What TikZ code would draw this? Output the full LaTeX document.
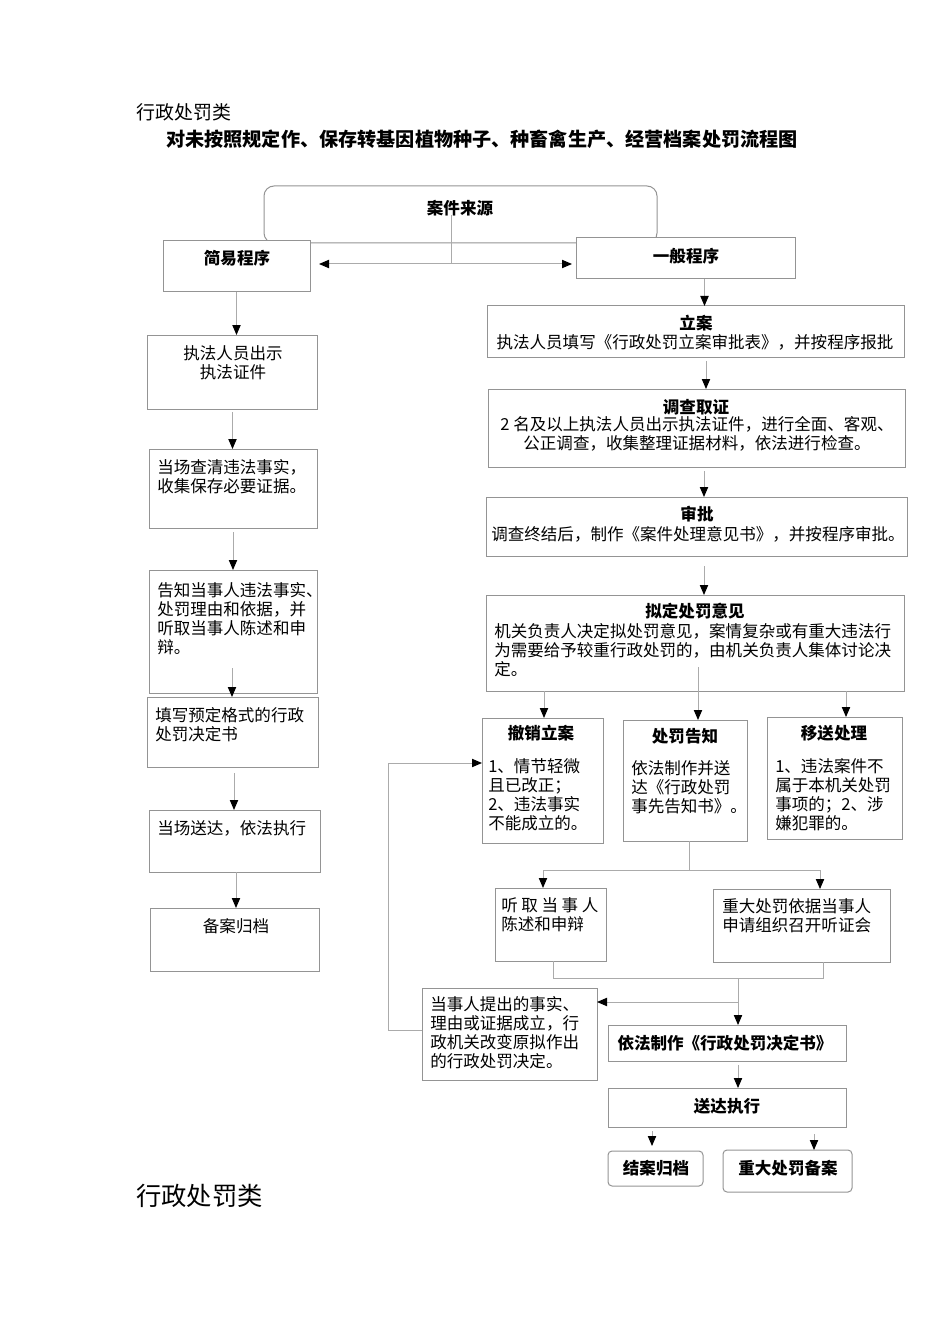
\documentclass[tikz,border=0pt]{standalone}
\usepackage{fontspec}
\setmainfont{Noto Sans CJK SC}
\usetikzlibrary{arrows.meta,calc}
\newcommand\fs{\fontsize{12.4pt}{14.3pt}\selectfont}
\newcommand\mkbox[6][]{\node[box,#1,minimum width={(#5-#3)*0.75pt},minimum height={(#6-#4)*0.75pt}] (#2) at ({(#3+#5)/2},{(#4+#6)/2}) {};}
\begin{document}
\begin{tikzpicture}[x=0.75pt,y=-0.75pt,
  box/.style={draw=black!42, fill=white, line width=0.75pt, inner sep=0pt, outer sep=0pt},
  ln/.style={draw=black!33, line width=0.75pt},
  tipa/.tip={Triangle[length=7.5pt,width=6.2pt,color=black]},
  arr/.style={ln, -tipa},
  darr/.style={ln, tipa-tipa},
  txt/.style={inner sep=0pt, font=\fs, align=left, anchor=west},
  ctr/.style={inner sep=0pt, font=\fs, align=center, anchor=center},
  hd/.style={inner sep=0pt, font=\fs\bfseries, anchor=center}
]
\fill[white] (0,0) rectangle (950,1344);
\useasboundingbox (0,0) rectangle (950,1344);

% titles
\node[anchor=west,inner sep=0pt,font=\fontsize{14.2pt}{16pt}\selectfont] (t1) at (136,112) {行政处罚类};
\node[anchor=west,inner sep=0pt,font=\fontsize{14.35pt}{16pt}\selectfont\bfseries] (t2) at (166,139) {对未按照规定作、保存转基因植物种子、种畜禽生产、经营档案处罚流程图};
\node[anchor=west,inner sep=0pt,font=\fontsize{19pt}{22pt}\selectfont] (t3) at (136,1196) {行政处罚类};

% source box and two procedures
\mkbox[rounded corners=7.5pt]{src}{264}{186}{657}{243}
\mkbox{jy}{163}{241}{310}{292}
\mkbox{yb}{576}{238}{795}{279}
\node[hd] at (460,208) {案件来源};
\node[hd] at (237,258) {简易程序};
\node[hd] at (686,256) {一般程序};

% left column
\mkbox{L1}{147}{335}{317}{409}
\mkbox{L2}{149}{449}{317}{528}
\mkbox{L3}{149}{570}{317}{693}
\mkbox{L4}{147}{697}{318}{767}
\mkbox{L5}{149}{810}{320}{872}
\mkbox{L6}{150}{908}{319}{971}
\node[ctr] at (233,363) {执法人员出示\\执法证件};
\node[txt] at (157,477) {当场查清违法事实，\\收集保存必要证据。};
\node[txt] at (157,618.5) {告知当事人违法事实、\\处罚理由和依据，并\\听取当事人陈述和申\\辩。};
\node[txt] at (155,724.5) {填写预定格式的行政\\处罚决定书};
\node[txt] at (157,828) {当场送达，依法执行};
\node[ctr] at (236,926) {备案归档};

% right column
\mkbox{R1}{487}{306}{904}{357}
\mkbox{R2}{488}{389}{905}{467}
\mkbox{R3}{486}{497}{907}{556}
\mkbox{R4}{486}{595}{904}{691}
\node[hd] at (696,323) {立案};
\node[ctr] at (695,342) {执法人员填写《行政处罚立案审批表》，并按程序报批};
\node[hd] at (696,407) {调查取证};
\node[ctr] at (697,433.5) {2 名及以上执法人员出示执法证件，进行全面、客观、\\公正调查，收集整理证据材料，依法进行检查。};
\node[hd] at (697,514) {审批};
\node[ctr] at (698,534) {调查终结后，制作《案件处理意见书》，并按程序审批。};
\node[hd] at (695,611) {拟定处罚意见};
\node[txt] at (494,650) {机关负责人决定拟处罚意见，案情复杂或有重大违法行\\为需要给予较重行政处罚的，由机关负责人集体讨论决\\定。};

\mkbox{C1}{482}{718}{603}{843}
\mkbox{C2}{623}{720}{747}{841}
\mkbox{C3}{767}{717}{902}{839}
\node[hd] at (541,733) {撤销立案};
\node[txt] at (488,794.5) {1、情节轻微\\且已改正；\\2、违法事实\\不能成立的。};
\node[hd] at (685,736) {处罚告知};
\node[txt] at (631,787) {依法制作并送\\达《行政处罚\\事先告知书》。};
\node[hd] at (834,733) {移送处理};
\node[txt] at (775,794.5) {1、违法案件不\\属于本机关处罚\\事项的；2、涉\\嫌犯罪的。};

\mkbox{H1}{495}{888}{606}{961}
\mkbox{H2}{713}{889}{890}{962}
\node[txt] at (501,914.5) {听\hspace{2.7pt}取\hspace{2.7pt}当\hspace{2.7pt}事\hspace{2.7pt}人\\陈述和申辩};
\node[txt] at (722,915.5) {重大处罚依据当事人\\申请组织召开听证会};

\mkbox{D1}{422}{988}{597}{1080}
\node[txt] at (430,1032.5) {当事人提出的事实、\\理由或证据成立，行\\政机关改变原拟作出\\的行政处罚决定。};

\mkbox{F1}{608}{1025}{846}{1061}
\mkbox{F2}{608}{1088}{846}{1127}
\mkbox[rounded corners=3pt]{E1}{608}{1151}{703}{1186}
\mkbox[rounded corners=3pt]{E2}{723}{1150}{852}{1192}
\node[hd] at (725,1043) {依法制作《行政处罚决定书》};
\node[hd] at (727,1106) {送达执行};
\node[hd] at (656,1168) {结案归档};
\node[hd] at (788,1168) {重大处罚备案};

% connectors: top
\coordinate (s1) at ($(src.center)+(-9.5,0.5)$);
\coordinate (s2) at ($(s1)+(0,49)$);
\coordinate (hl) at ($(s2 -| jy.east)+(9,0)$);
\coordinate (hr) at ($(s2 -| yb.west)+(-4,0)$);
\draw[ln] (s1) -- (s2);
\draw[darr] (hl) -- (hr);

% left column arrows
\draw[arr] (jy.south) -- (jy.south |- L1.north);
\draw[arr] ($(L1.south)+(0.5,3)$) coordinate (q) -- (q |- L2.north);
\draw[arr] ($(L2.south)+(0,4)$) coordinate (q) -- (q |- L3.north);
\draw[arr] ($(L3.south)+(-1,-25)$) coordinate (q) -- (q |- L4.north);
\draw[arr] ($(L4.south)+(1.5,6)$) coordinate (q) -- (q |- L5.north);
\draw[arr] ($(L5.south)+(1.5,0)$) coordinate (q) -- (q |- L6.north);

% right column arrows
\draw[arr] ($(yb.south)+(19,0)$) coordinate (q) -- (q |- R1.north);
\draw[arr] ($(R1.south)+(10.5,4)$) coordinate (q) -- (q |- R2.north);
\draw[arr] ($(R2.south)+(7.5,4)$) coordinate (q) -- (q |- R3.north);
\draw[arr] ($(R3.south)+(7.5,10)$) coordinate (q) -- (q |- R4.north);
\draw[arr] ($(R4.south)+(-151,0)$) coordinate (q) -- (q |- C1.north);
\draw[arr] ($(R4.south)+(3,-24)$) coordinate (q) -- (q |- C2.north);
\draw[arr] ($(R4.south)+(151,0)$) coordinate (q) -- (q |- C3.north);

% hearing branch
\draw[ln] ($(C2.south)+(4,0)$) -- ++(0,29) coordinate (j1);
\draw[arr] (j1) -| ($(H1.north)+(-7.5,0)$);
\draw[arr] (j1) -| ($(H2.north)+(18.5,0)$);
\draw[ln] ($(H1.south)+(2.5,0)$) -- ++(0,17) coordinate (m1) -| ($(H2.south)+(21.5,0)$);
\coordinate (m2) at ($(m1 -| F1.north)+(11,0)$);
\draw[arr] (m2) -- (m2 |- F1.north);
\draw[arr] ($(m2)+(0,24)$) coordinate (q) -- (q -| D1.east);
\draw[arr] ($(D1.west)+(0,-4)$) -- ++(-34,0) |- ($(C1.west)+(0,-17.5)$);

% final
\draw[arr] ($(F1.south)+(11,4)$) coordinate (q) -- (q |- F2.north);
\draw[arr] ($(F2.south -| E1.north)+(-3.5,4)$) -- ($(E1.north)+(-3.5,-5)$);
\draw[arr] ($(F2.south -| E2.north)+(26.5,7)$) -- ($(E2.north)+(26.5,0)$);
\end{tikzpicture}
\end{document}
